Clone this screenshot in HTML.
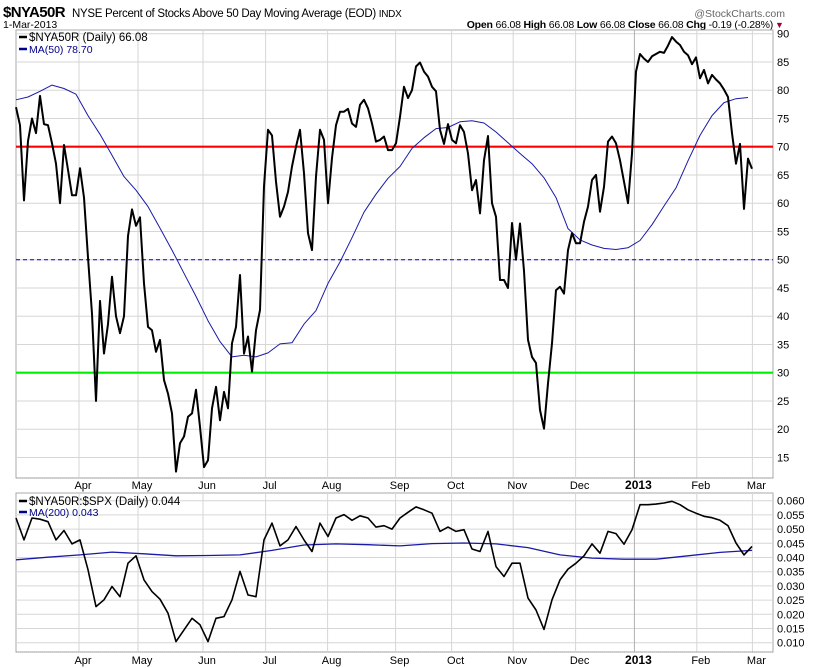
<!DOCTYPE html>
<html><head><meta charset="utf-8"><style>
body{margin:0;background:#fff;}
svg{display:block;font-family:"Liberation Sans",Arial,sans-serif;}
</style></head><body>
<svg id="c" width="820" height="668" viewBox="0 0 820 668">
<g id="hdr">
<text x="3" y="17" font-size="15" font-weight="bold" letter-spacing="-0.6">$NYA50R</text>
<text x="72" y="17" font-size="11.5" letter-spacing="-0.3">NYSE Percent of Stocks Above 50 Day Moving Average (EOD) <tspan font-size="10">INDX</tspan></text>
<text x="785" y="17" font-size="10.5" fill="#666" text-anchor="end">@StockCharts.com</text>
<text x="3" y="28" font-size="10.5">1-Mar-2013</text>
<text x="773" y="28" font-size="10.5" text-anchor="end" letter-spacing="-0.2"><tspan font-weight="bold">Open</tspan> 66.08 <tspan font-weight="bold">High</tspan> 66.08 <tspan font-weight="bold">Low</tspan> 66.08 <tspan font-weight="bold">Close</tspan> 66.08 <tspan font-weight="bold">Chg</tspan> -0.19 (-0.28%)</text>
<text x="775" y="28" font-size="9" fill="#a00030">▼</text>
</g>
<g id="grid"></g>
<g id="marks"></g>
<g id="axes"></g>
</svg>
<script>
const ns="http://www.w3.org/2000/svg";
// ---- data ----
const monthLabels=["Apr","May","Jun","Jul","Aug","Sep","Oct","Nov","Dec","2013","Feb","Mar"];
const monthIdx=[15.75,30.5,46.75,62.4,77.9,94.9,108.9,124.3,139.9,154.6,170.2,184.1];
const topTicks=[90,85,80,75,70,65,60,55,50,45,40,35,30,25,20,15];
const botTicks=["0.060","0.055","0.050","0.045","0.040","0.035","0.030","0.025","0.020","0.015","0.010"];
const nyaValues=[77,73.8,60.5,71,75,72.4,79,74,73.8,70.6,67,60,70.3,65.9,61.4,61.4,66.2,61,50.4,40.4,25,42.7,33.4,38.6,47,40,37,40,54.2,58.9,56,57.5,45.8,38.1,37.5,33.7,35.8,28.7,26.3,22.8,12.5,17.5,18.7,22.2,22.8,27,20.4,13.3,14.5,23.7,27.5,21.6,26.6,23.7,35.2,38.1,47.3,33.4,36.4,30.2,37.5,41.1,63,
73,72,63.8,57.6,59.4,62,66.5,70,73,65.3,54.7,51.7,64.7,73,71.2,60,68,73.8,76.2,76.2,76.7,74.1,73.5,77.4,78.3,76.8,74.1,70.9,71.2,71.8,69.4,69.4,70.6,75.3,80.6,78.6,80,84.2,84.9,83.3,82.4,80.6,79.8,73,70.5,74,71.2,70.6,73.8,72.6,68.8,62.3,64.1,58.2,67.6,71.9,60,57.6,46.4,46.4,45,
56.5,50,56.4,48,35.8,32.8,31.7,23.4,20.1,28.1,35.2,44.6,45.2,44,51.7,54.7,52.9,52.9,56.7,59.4,64.1,65,58.5,62.9,70.9,71.8,70.6,67.6,63.8,60,68.8,83.3,86.4,85.6,85,86,86.4,86.8,86.6,87.9,89.4,88.6,88,86.8,86.2,84.6,85.8,82.1,83.6,81.2,82.7,81.9,81.2,80.1,78.8,72.4,67,70.5,59,67.9,66.1];
const ma50Values=[78.3,78.8,79.8,80.9,80.3,79.3,75.5,72.2,68.5,64.7,62.3,59.4,55.6,51.7,47.6,43.5,39.2,35.5,32.8,33.1,32.8,33.5,35.1,35.3,38.6,41,45.8,49.6,53.9,58.4,61.6,64.4,66.5,69.7,71.6,73.2,73.4,74.4,74.6,74.2,72.6,70.7,68.8,67,64.5,61,55.5,53.5,52.6,52,51.8,52.1,53.4,56.2,59.5,62.7,67.5,72,75.5,77.8,78.5,78.7];
const ratioValues=[0.0539,0.0462,0.0539,0.0535,0.0526,0.0462,0.0495,0.0448,0.0462,0.0357,0.0227,0.0251,0.0298,0.0262,0.0380,0.0406,0.0321,0.0280,0.0253,0.0204,0.0104,0.0145,0.0186,0.0163,0.0104,0.0186,0.0192,0.0251,0.0351,0.0268,0.0262,0.0462,0.0521,0.0441,0.0462,0.0509,0.0462,0.0421,0.0521,0.0474,0.0539,0.0551,0.0531,0.0547,0.0539,0.0507,0.0512,
0.0500,0.0539,0.0559,0.0578,0.0568,0.0556,0.0492,0.0507,0.0492,0.0498,0.0430,0.0421,0.0492,0.0368,0.0333,0.0380,0.0380,0.0257,0.0215,0.0147,0.0251,0.0321,0.0359,0.0380,0.0406,0.0448,0.0415,0.0492,0.0484,0.0447,0.0498,0.0586,0.0586,0.0588,0.0592,0.0598,0.0586,0.0568,0.0556,0.0545,0.0540,0.0531,0.0512,0.0451,0.0409,0.0439];
const ma200Values=[0.0392,0.0401,0.0409,0.0419,0.0413,0.0406,0.0407,0.0409,0.0425,0.0444,0.0448,0.0445,0.0441,0.0449,0.0451,0.0448,0.0435,0.0409,0.0398,0.0394,0.0394,0.0406,0.0418,0.0425];
const refLines=[70,50,30];
// ---- scales ----
const L=16,R=773,T1=30,B1=478,T2=493,B2=652;
function xAt(i){return L+4*i;}
function yTop(v){return 33.7+(90-v)*5.65;}
function yBot(v){return 500.7+(0.060-v)/0.005*14.2;}
function mk(tag,attrs,parent){const e=document.createElementNS(ns,tag);for(const k in attrs)e.setAttribute(k,attrs[k]);parent.appendChild(e);return e;}
const grid=document.getElementById('grid'),marks=document.getElementById('marks'),axes=document.getElementById('axes');
let f1=mk('rect',{x:L,y:T1,width:R-L,height:B1-T1,fill:'#fff',stroke:'#aaa'},grid);


let f2=mk('rect',{x:L,y:T2,width:R-L,height:B2-T2,fill:'#fff',stroke:'#aaa'},grid);


topTicks.forEach(v=>{const y=yTop(v);
 const g=mk('line',{x1:L,x2:R,y1:y,y2:y,stroke:'#d6d6d6'},grid);
 
 
 const t=mk('text',{x:777,y:y+4,'font-size':'11',fill:'#000'},axes);t.textContent=v;
 
 
});
botTicks.forEach(s=>{const y=yBot(parseFloat(s));
 const g=mk('line',{x1:L,x2:R,y1:y,y2:y,stroke:'#d6d6d6'},grid);
 
 
 const t=mk('text',{x:777,y:y+4,'font-size':'11',fill:'#000'},axes);t.textContent=s;
 
 
});
monthIdx.forEach((mi,k)=>{const x=xAt(mi);const is13=monthLabels[k]==="2013";
 [[T1,B1],[T2,B2]].forEach(p=>{const g=mk('line',{x1:x,x2:x,y1:p[0],y2:p[1],stroke:is13?'#b0b0b0':'#d6d6d6'},grid);
  
  });
 [489,664].forEach(y=>{const t=mk('text',{x:x+4,y:y,'font-size':is13?'12':'11','font-weight':is13?'bold':'normal','text-anchor':'middle'},axes);t.textContent=monthLabels[k];
  
  });
});
[B1,B2].forEach(y=>{const d=mk('line',{x1:L,x2:R,y1:y,y2:y,stroke:'#999','stroke-dasharray':'1,1'},grid);
 
 });
const refCol=['#ff0000','#0000cc','#00ee00'];
refLines.forEach((v,k)=>{const y=yTop(v);
 const a={x1:L,x2:R,y1:y,y2:y,stroke:refCol[k],'stroke-width':k===1?1:2.2};
 if(k===1){a['stroke-dasharray']='4,3';}
 const l=mk('line',a,marks);
 
 });
function poly(vals,step,ys,col,w,name){
 const pts=vals.map((v,i)=>xAt(i*step).toFixed(1)+','+ys(v).toFixed(1)).join(' ');
 const p=mk('polyline',{points:pts,fill:'none',stroke:col,'stroke-width':w,'stroke-linejoin':'round'},marks);
 
 }
poly(ma50Values,3,yTop,'#1a1aa8',1,'ma50-line');
poly(nyaValues,1,yTop,'#000',2,'nya50r-line');
poly(ma200Values,8,yBot,'#1a1aa8',1.3,'ma200-line');
poly(ratioValues,2,yBot,'#000',1.6,'ratio-line');
function leg(y,txt,col,name){
 const l=mk('line',{x1:19,x2:27,y1:y-4,y2:y-4,stroke:col,'stroke-width':2.5},axes);
 
 
 const t=mk('text',{x:29,y:y,'font-size':col==='#000'?'11.5':'10.5',fill:col},axes);t.textContent=txt;
 
 }
leg(41,'$NYA50R (Daily) 66.08','#000','legend-nya50r');
leg(53,'MA(50) 78.70','#00008b','legend-ma50');
leg(505,'$NYA50R:$SPX (Daily) 0.044','#000','legend-ratio');
leg(516,'MA(200) 0.043','#00008b','legend-ma200');
</script>
</body></html>
